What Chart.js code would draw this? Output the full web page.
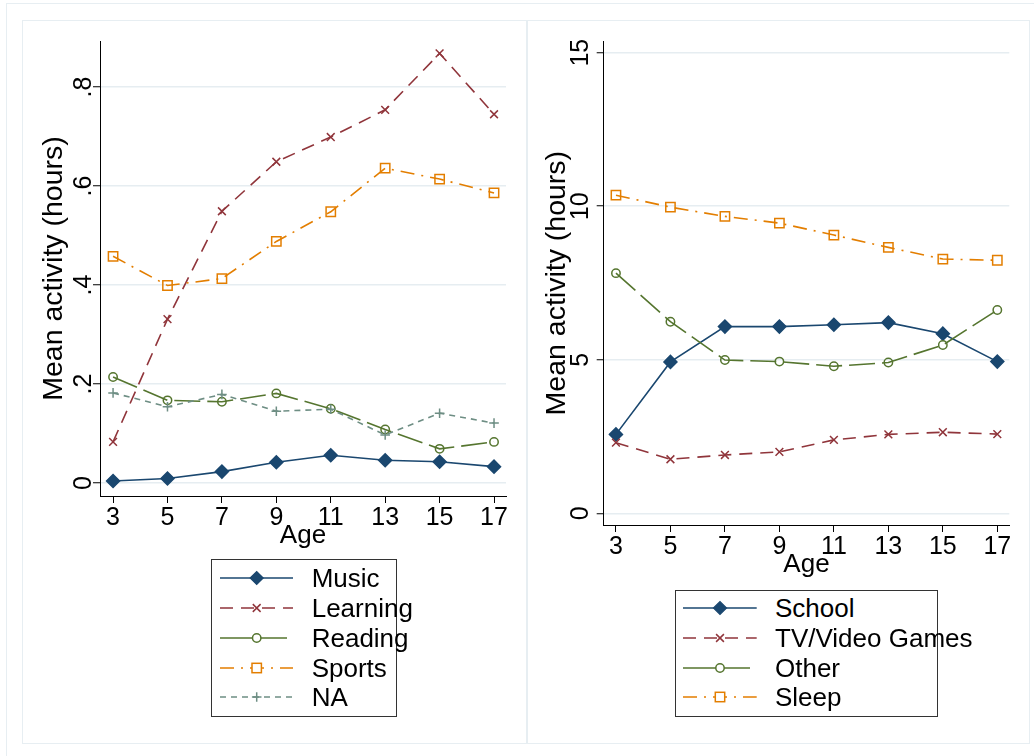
<!DOCTYPE html>
<html>
<head>
<meta charset="utf-8">
<script src="https://cdn.jsdelivr.net/npm/chart.js@4.4.1/dist/chart.umd.min.js"></script>
<style>
  html,body{margin:0;padding:0;background:#fff;}
  body{width:1034px;height:756px;position:relative;overflow:hidden;font-family:"Liberation Sans",Arial,sans-serif;}
  .frame{position:absolute;border:1.5px solid #e7eef2;box-sizing:border-box;}
  canvas{position:absolute;}
  .legend{position:absolute;border:1px solid #333;box-sizing:border-box;background:#fff;}
  .row{position:absolute;left:0;height:30px;width:400px;}
  .row svg{position:absolute;left:0;top:0;}
  .row span{position:absolute;top:0;line-height:30px;font-size:26px;color:#000;white-space:nowrap;}
</style>
</head>
<body>
<div class="frame" style="left:6px;top:3px;width:1060px;height:780px;"></div>
<div class="frame" style="left:22px;top:20px;width:506px;height:724px;"></div>
<div class="frame" style="left:526px;top:20px;width:504px;height:724px;"></div>
<canvas id="leftChart" width="502" height="720" style="left:24px;top:22px;"></canvas>
<canvas id="rightChart" width="500" height="720" style="left:528px;top:22px;"></canvas>
<div id="leftLegend" class="legend" style="left:211px;top:559px;width:186px;height:158px;"></div>
<div id="rightLegend" class="legend" style="left:675px;top:590px;width:263px;height:127px;"></div>
<script>
// ---------------- data ----------------
const ages = [3, 5, 7, 9, 11, 13, 15, 17];
const xTicks = [3, 5, 7, 9, 11, 13, 15, 17];

// left panel (hours)
const music    = [0.004, 0.009, 0.023, 0.042, 0.056, 0.046, 0.043, 0.033];
const learning = [0.083, 0.331, 0.549, 0.649, 0.699, 0.754, 0.868, 0.745];
const reading  = [0.214, 0.167, 0.164, 0.181, 0.150, 0.108, 0.069, 0.083];
const sports   = [0.458, 0.399, 0.413, 0.488, 0.548, 0.636, 0.614, 0.586];
const naVals   = [0.182, 0.154, 0.179, 0.145, 0.149, 0.097, 0.141, 0.121];
const leftNames = ['Music', 'Learning', 'Reading', 'Sports', 'NA'];
const leftYTicks  = [0, 0.2, 0.4, 0.6, 0.8];
const leftYLabels = ['0', '.2', '.4', '.6', '.8'];

// right panel (hours)
const school  = [2.57, 4.93, 6.08, 6.08, 6.14, 6.21, 5.85, 4.94];
const tvGames = [2.30, 1.76, 1.90, 2.00, 2.39, 2.57, 2.64, 2.58];
const other   = [7.82, 6.24, 4.99, 4.94, 4.79, 4.91, 5.48, 6.62];
const sleep   = [10.36, 9.97, 9.67, 9.45, 9.06, 8.66, 8.28, 8.24];
const rightNames = ['School', 'TV/Video Games', 'Other', 'Sleep'];
const rightYTicks  = [0, 5, 10, 15];
const rightYLabels = ['0', '5', '10', '15'];

const xTitle = 'Age';
const yTitle = 'Mean activity (hours)';

// ---------------- styles ----------------
const FONT = '"Liberation Sans", Arial, sans-serif';
Chart.defaults.font.family = FONT;
const styles = [
  {color:'#1a476f', dash:[], legendDash:'', marker:'rectRot', r:6.5, fill:true},
  {color:'#90353b', dash:[13,8], legendDash:'13 8', marker:'crossRot', r:5.5, fill:false},
  {color:'#55752f', dash:[26,7], legendDash:'36 5 26 30', marker:'circle', r:4.2, fill:false},
  {color:'#e37e00', dash:[14,7,2,7], legendDash:'14 7 2 7', marker:'rect', r:6.6, fill:false},
  {color:'#6e8e84', dash:[6,5], legendDash:'6 5', marker:'cross', r:4.8, fill:false}
];

function makeDatasets(series, names) {
  return series.map((vals, i) => {
    const s = styles[i];
    return {
      label: names[i],
      data: ages.map((a, k) => ({x: a, y: vals[k]})),
      borderColor: s.color,
      borderWidth: 1.6,
      borderDash: s.dash,
      tension: 0,
      fill: false,
      pointStyle: s.marker,
      pointRadius: s.r,
      pointBorderWidth: 1.5,
      pointBorderColor: s.color,
      pointBackgroundColor: s.fill ? s.color : 'rgba(0,0,0,0)',
      order: series.length - i
    };
  });
}

function makeChart(id, datasets, cfg) {
  return new Chart(document.getElementById(id), {
    type: 'line',
    data: {datasets},
    options: {
      responsive: false, animation: false, devicePixelRatio: 1,
      layout: {padding: {left: 0, right: cfg.padR, top: cfg.padT, bottom: cfg.padB}},
      plugins: {legend: {display: false}, tooltip: {enabled: false}},
      scales: {
        x: {
          type: 'linear', min: cfg.xMin, max: cfg.xMax,
          afterBuildTicks: s => { s.ticks = xTicks.map(v => ({value: v})); },
          afterFit: s => { s.height = 53; },
          grid: {drawOnChartArea: false, tickColor: '#000', tickLength: 7, tickWidth: 1},
          border: {display: true, color: '#000', width: 1},
          ticks: {color: '#000', font: {size: 25}, padding: 0, maxRotation: 0, minRotation: 0, autoSkip: false,
                  callback: (v, i) => String(xTicks[i])},
          title: {display: true, text: xTitle, color: '#000', font: {size: 26, lineHeight: 1}, padding: 0}
        },
        y: {
          type: 'linear', min: cfg.yMin, max: cfg.yMax,
          afterBuildTicks: s => { s.ticks = cfg.yTicks.map(v => ({value: v})); },
          afterFit: s => { s.width = cfg.yWidth; },
          grid: {color: '#e6edf1', lineWidth: 1.5, tickColor: '#000', tickLength: 7, tickWidth: 1},
          border: {display: true, color: '#000', width: 1},
          ticks: {color: '#000', font: {size: 25}, minRotation: 90, maxRotation: 90, crossAlign: 'center',
                  padding: cfg.yPad, autoSkip: false, callback: (v, i) => cfg.yLabels[i]},
          title: {display: true, text: yTitle, color: '#000', font: {size: 28.5, lineHeight: 1},
                  padding: {top: cfg.titlePad, bottom: 0}}
        }
      }
    }
  });
}

makeChart('leftChart', makeDatasets([music, learning, reading, sports, naVals], leftNames), {
  xMin: 2.52, xMax: 17.44, yMin: -0.0263, yMax: 0.893, yTicks: leftYTicks, yLabels: leftYLabels,
  padR: 20, padT: 19, padB: 193, yWidth: 76, yPad: -2, titlePad: 15.75
});
makeChart('rightChart', makeDatasets([school, tvGames, other, sleep], rightNames), {
  xMin: 2.55, xMax: 17.44, yMin: -0.381, yMax: 15.371, yTicks: rightYTicks, yLabels: rightYLabels,
  padR: 18.7, padT: 19.3, padB: 164, yWidth: 75.7, yPad: 1.7, titlePad: 14.45
});

// ---------------- legends ----------------
function markerSvg(s, cx, cy) {
  const c = s.color;
  switch (s.marker) {
    case 'rectRot': return `<polygon points="${cx-6.5},${cy} ${cx},${cy-6.5} ${cx+6.5},${cy} ${cx},${cy+6.5}" fill="${c}" stroke="${c}" stroke-width="1.2"/>`;
    case 'crossRot': return `<path d="M${cx-3.9} ${cy-3.9}L${cx+3.9} ${cy+3.9}M${cx-3.9} ${cy+3.9}L${cx+3.9} ${cy-3.9}" stroke="${c}" stroke-width="1.5"/>`;
    case 'circle': return `<circle cx="${cx}" cy="${cy}" r="4.2" fill="#fff" stroke="${c}" stroke-width="1.5"/>`;
    case 'rect': return `<rect x="${cx-4.7}" y="${cy-4.7}" width="9.4" height="9.4" fill="#fff" stroke="${c}" stroke-width="1.5"/>`;
    case 'cross': return `<path d="M${cx-4.8} ${cy}L${cx+4.8} ${cy}M${cx} ${cy-4.8}L${cx} ${cy+4.8}" stroke="${c}" stroke-width="1.5"/>`;
  }
  return '';
}
function buildLegend(id, names, rowCenters, lineX0, lineX1, markX, textX) {
  const box = document.getElementById(id);
  const top = box.getBoundingClientRect().top + 1;
  names.forEach((name, i) => {
    const s = styles[i];
    const row = document.createElement('div');
    row.className = 'row';
    row.style.top = (rowCenters[i] - top - 15) + 'px';
    const dash = s.legendDash ? `stroke-dasharray="${s.legendDash}"` : '';
    row.innerHTML = `<svg width="100" height="30"><line x1="${lineX0}" y1="15" x2="${lineX1}" y2="15" stroke="${s.color}" stroke-width="1.6" ${dash}/>${markerSvg(s, markX, 15)}</svg><span style="left:${textX}px">${name}</span>`;
    box.appendChild(row);
  });
}
buildLegend('leftLegend', leftNames, [578, 608, 638, 668, 697], 8, 81, 44.7, 99.7);
buildLegend('rightLegend', rightNames, [608.3, 638.3, 668, 697], 7, 80.7, 44, 99);
</script>
</body>
</html>
